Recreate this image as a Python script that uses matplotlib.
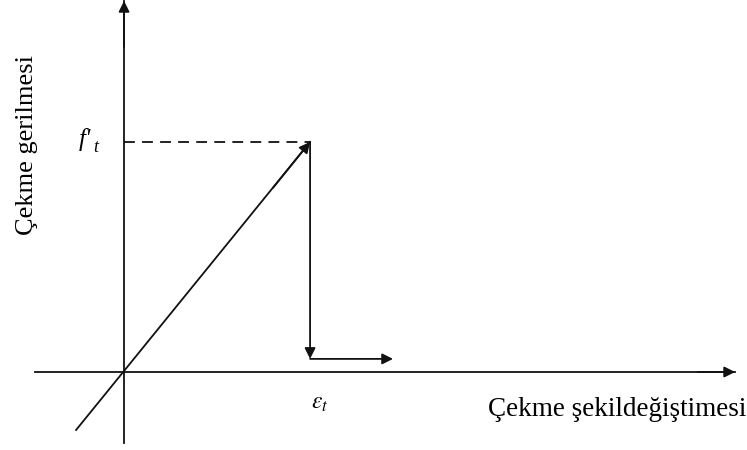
import matplotlib.pyplot as plt

# Tension model (normalised units: eps_t = 1, f't = 1)
eps_t = 1.0
f_t = 1.0
tail = [-0.258, -0.252]          # start of elastic line below origin
residual = 0.057                 # stress level after the drop
eps_end = 1.446                  # end of residual branch
x_axis = [-0.48, 3.285]
y_axis = [-0.309, 1.613]

plt.rcParams['font.family'] = ['Liberation Serif', 'DejaVu Serif']
plt.rcParams['mathtext.fontset'] = 'stix'

fig = plt.figure(figsize=(7.47, 4.5), dpi=100)
ax = fig.add_axes([0, 0, 1, 1])
ax.set_xlim(-0.667, 3.349)
ax.set_ylim(-0.339, 1.617)
ax.axis('off')

lw = 1.3
col = '#111111'
arrow = dict(arrowstyle='-|>', color=col, lw=lw, mutation_scale=16,
             shrinkA=0, shrinkB=0)

# axes
ax.plot(x_axis, [0, 0], color=col, lw=lw)
ax.annotate('', xy=(x_axis[1], 0), xytext=(x_axis[1] - 0.2, 0), arrowprops=arrow)
ax.plot([0, 0], y_axis, color=col, lw=lw)
ax.annotate('', xy=(0, y_axis[1]), xytext=(0, y_axis[1] - 0.2), arrowprops=arrow)

# elastic branch
ax.plot([tail[0], eps_t], [tail[1], f_t], color=col, lw=lw)
ax.annotate('', xy=(eps_t, f_t), xytext=(eps_t - 0.2, f_t - 0.2 * f_t / eps_t),
            arrowprops=arrow)

# dashed reference line
ax.plot([0, eps_t], [f_t, f_t], color=col, lw=lw, ls=(0, (6, 4)))

# sudden drop
ax.annotate('', xy=(eps_t, residual), xytext=(eps_t, f_t), arrowprops=arrow)
# residual branch
ax.annotate('', xy=(eps_end, residual), xytext=(eps_t, residual), arrowprops=arrow)

# labels
ax.text(-0.21, f_t + 0.01, "f'", fontsize=18, style='italic', ha='center',
        va='center')
ax.text(-0.15, f_t - 0.025, "t", fontsize=13, style='italic', ha='center',
        va='center')
ax.text(eps_t + 0.05, -0.135, r"$\varepsilon_{t}$", fontsize=17, ha='center',
        va='center')
ax.text(3.345, -0.165, 'Çekme şekildeğiştimesi', fontsize=19.5, ha='right',
        va='center')
ax.text(-0.52, 0.985, 'Çekme gerilmesi', fontsize=19, ha='center', va='center',
        rotation=90)

fig.savefig('out.png', dpi=100)
